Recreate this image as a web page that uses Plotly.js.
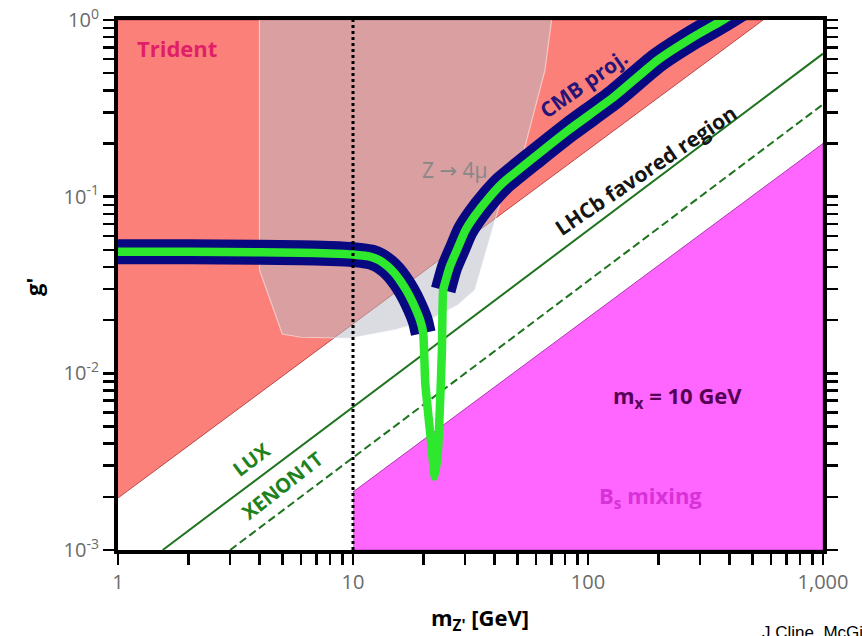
<!DOCTYPE html>
<html>
<head>
<meta charset="utf-8">
<script src="https://cdn.plot.ly/plotly-3.0.1.min.js"></script>
<style>html,body{margin:0;padding:0;background:#fff;}</style>
</head>
<body>
<div id="chart" style="width:862px;height:636px;"></div>
<script>
// ---- axis ticks (major labelled, minor blank) ----
const massTickVals = [1,2,3,4,5,6,7,8,9,10,20,30,40,50,60,70,80,90,100,200,300,400,500,600,700,800,900,1000];
const massTickText = ['1','','','','','','','','','10','','','','','','','','','100','','','','','','','','','1,000'];
const couplingTickVals = [0.001,0.002,0.003,0.004,0.005,0.006,0.007,0.008,0.009,0.01,0.02,0.03,0.04,0.05,0.06,0.07,0.08,0.09,0.1,0.2,0.3,0.4,0.5,0.6,0.7,0.8,0.9,1];
const couplingTickText = ['10<sup>-3</sup>','','','','','','','','','10<sup>-2</sup>','','','','','','','','','10<sup>-1</sup>','','','','','','','','','10<sup>0</sup>'];

// ---- regions / curves (m_Z' in GeV, g') ----
const tridentEdgeM = [1, 556];
const tridentEdgeG = [0.00197, 1];
const bsEdgeM = [10, 1000];
const bsEdgeG = [0.00213, 0.2];
const z4muM = [4, 4, 5, 6, 9.7, 15, 21, 28, 33, 38, 43.5, 53, 65.6, 70];
const z4muG = [1, 0.0385, 0.0167, 0.016, 0.0158, 0.0176, 0.020, 0.0244, 0.0296, 0.057, 0.105, 0.176, 0.52, 1];
const luxM = [1.55, 1000];
const luxG = [0.001, 0.645];
const xenonM = [3, 1000];
const xenonG = [0.001, 0.333];
const cutM = [10, 10];
const cutG = [0.001, 1];
const cmbLeftM = [0.9, 2, 4, 6, 8, 10, 12, 13, 14, 15, 16, 17, 18, 19.3, 19.9];
const cmbLeftG = [0.0487, 0.0487, 0.0485, 0.0482, 0.0477, 0.0470, 0.0455, 0.0435, 0.0405, 0.037, 0.033, 0.029, 0.025, 0.020, 0.0169];
const dipM = [20.3, 21.3, 22.3, 23.0, 23.5, 23.9, 24.0];
const dipG = [0.0088, 0.0046, 0.0026, 0.0037, 0.0071, 0.0135, 0.020];
const cmbRightM = [24.2, 25.8, 27.7, 30, 33, 38, 43.5, 60, 84, 130, 197, 280, 375, 500];
const cmbRightG = [0.0296, 0.040, 0.050, 0.064, 0.078, 0.099, 0.12, 0.17, 0.242, 0.37, 0.59, 0.80, 1.0, 1.27];

// plot area in pixels (for label placement in paper coordinates)
const L = 118, T = 20, W = 705, H = 530;
const px = x => (x - L) / W;
const py = y => (T + H - y) / H;

const traces = [
  { // Trident
    x: tridentEdgeM.concat([1]), y: tridentEdgeG.concat([1]),
    mode: 'lines', fill: 'toself', fillcolor: 'rgb(252,128,122)',
    line: {color: 'rgb(190,70,70)', width: 1}, hoverinfo: 'skip'
  },
  { // Bs mixing
    x: bsEdgeM.concat([1000, 10]), y: bsEdgeG.concat([0.001, 0.001]),
    mode: 'lines', fill: 'toself', fillcolor: 'rgb(255,102,255)',
    line: {color: 'rgb(170,60,170)', width: 1}, hoverinfo: 'skip'
  },
  { // Z -> 4mu
    x: z4muM, y: z4muG,
    mode: 'lines', fill: 'toself', fillcolor: 'rgba(185,188,198,0.52)',
    line: {color: 'rgba(255,255,255,0.5)', width: 1.2}, hoverinfo: 'skip'
  },
  { // LUX
    x: luxM, y: luxG, mode: 'lines',
    line: {color: 'rgb(30,115,30)', width: 2}, hoverinfo: 'skip'
  },
  { // XENON1T
    x: xenonM, y: xenonG, mode: 'lines',
    line: {color: 'rgb(30,115,30)', width: 2, dash: '8px,4px'}, hoverinfo: 'skip'
  },
  { // CMB navy left
    x: cmbLeftM, y: cmbLeftG, mode: 'lines',
    line: {color: 'rgb(8,8,128)', width: 25, shape: 'spline', smoothing: 0.6}, hoverinfo: 'skip'
  },
  { // CMB navy right
    x: cmbRightM, y: cmbRightG, mode: 'lines',
    line: {color: 'rgb(8,8,128)', width: 25, shape: 'spline', smoothing: 0.6}, hoverinfo: 'skip'
  },
  { // green curve
    x: cmbLeftM.concat(dipM, cmbRightM), y: cmbLeftG.concat(dipG, cmbRightG), mode: 'lines',
    line: {color: 'rgb(45,232,45)', width: 8.5, shape: 'spline', smoothing: 0.4}, hoverinfo: 'skip'
  },
  { // m_chi = 10 GeV cut (dotted)
    x: cutM, y: cutG, mode: 'lines',
    line: {color: 'black', width: 3, dash: '3px,3px'}, hoverinfo: 'skip'
  }
];

const tickFont = {family: 'Open Sans, DejaVu Sans, sans-serif', size: 20, color: '#6b6b6b'};
const ann = (text, x, y, color, size, angle, extra) => Object.assign({
  text: text, xref: 'paper', yref: 'paper', x: px(x), y: py(y),
  showarrow: false, textangle: angle || 0,
  font: {family: 'Open Sans, DejaVu Sans, sans-serif', size: size, color: color},
  xanchor: 'center', yanchor: 'middle'
}, extra || {});

const layout = {
  width: 862, height: 636,
  margin: {l: L, r: 862 - L - W, t: T, b: 636 - T - H},
  paper_bgcolor: 'white', plot_bgcolor: 'white',
  showlegend: false,
  xaxis: {
    type: 'log', range: [0, 3],
    tickmode: 'array', tickvals: massTickVals, ticktext: massTickText,
    ticks: 'outside', ticklen: 11, tickwidth: 2.5, tickcolor: 'black',
    showline: true, linewidth: 4, linecolor: 'black', mirror: true,
    showgrid: false, zeroline: false, tickfont: tickFont
  },
  yaxis: {
    type: 'log', range: [-3, 0],
    tickmode: 'array', tickvals: couplingTickVals, ticktext: couplingTickText,
    ticks: 'outside', ticklen: 11, tickwidth: 2.5, tickcolor: 'black',
    showline: true, linewidth: 4, linecolor: 'black', mirror: 'ticks',
    showgrid: false, zeroline: false, tickfont: tickFont
  },
  annotations: [
    ann('<b>Trident</b>', 177, 48, 'rgb(225,30,105)', 22, 0),
    ann('Z → 4μ', 455, 170, 'rgb(135,135,135)', 21, 0),
    ann('<b>CMB proj.</b>', 583, 84, 'rgb(40,20,120)', 21, -35),
    ann('<b>LHCb favored region</b>', 646, 170, 'rgb(20,20,20)', 21, -34),
    ann('<b>LUX</b>', 251, 459, 'rgb(30,130,30)', 20, -37),
    ann('<b>XENON1T</b>', 282, 485, 'rgb(30,130,30)', 20, -38),
    ann('<b>m<sub>x</sub> = 10 GeV</b>', 677, 397, 'rgb(85,0,85)', 22, 0),
    ann('<b>B<sub>s</sub> mixing</b>', 650, 497, 'rgb(215,50,215)', 22, 0),
    ann('<b>g\'</b>', 33, 287, 'black', 22, -90),
    ann('<b>m<sub>Z\'</sub> [GeV]</b>', 480, 619, 'black', 22, 0),
    Object.assign(ann('J.Cline, McGill', 760, 632, 'black', 17, 0),
      {xanchor: 'left', font: {family: 'Arial, Liberation Sans, sans-serif', size: 17, color: 'black'}})
  ]
};

Plotly.newPlot('chart', traces, layout, {staticPlot: true, displayModeBar: false});
</script>
</body>
</html>
